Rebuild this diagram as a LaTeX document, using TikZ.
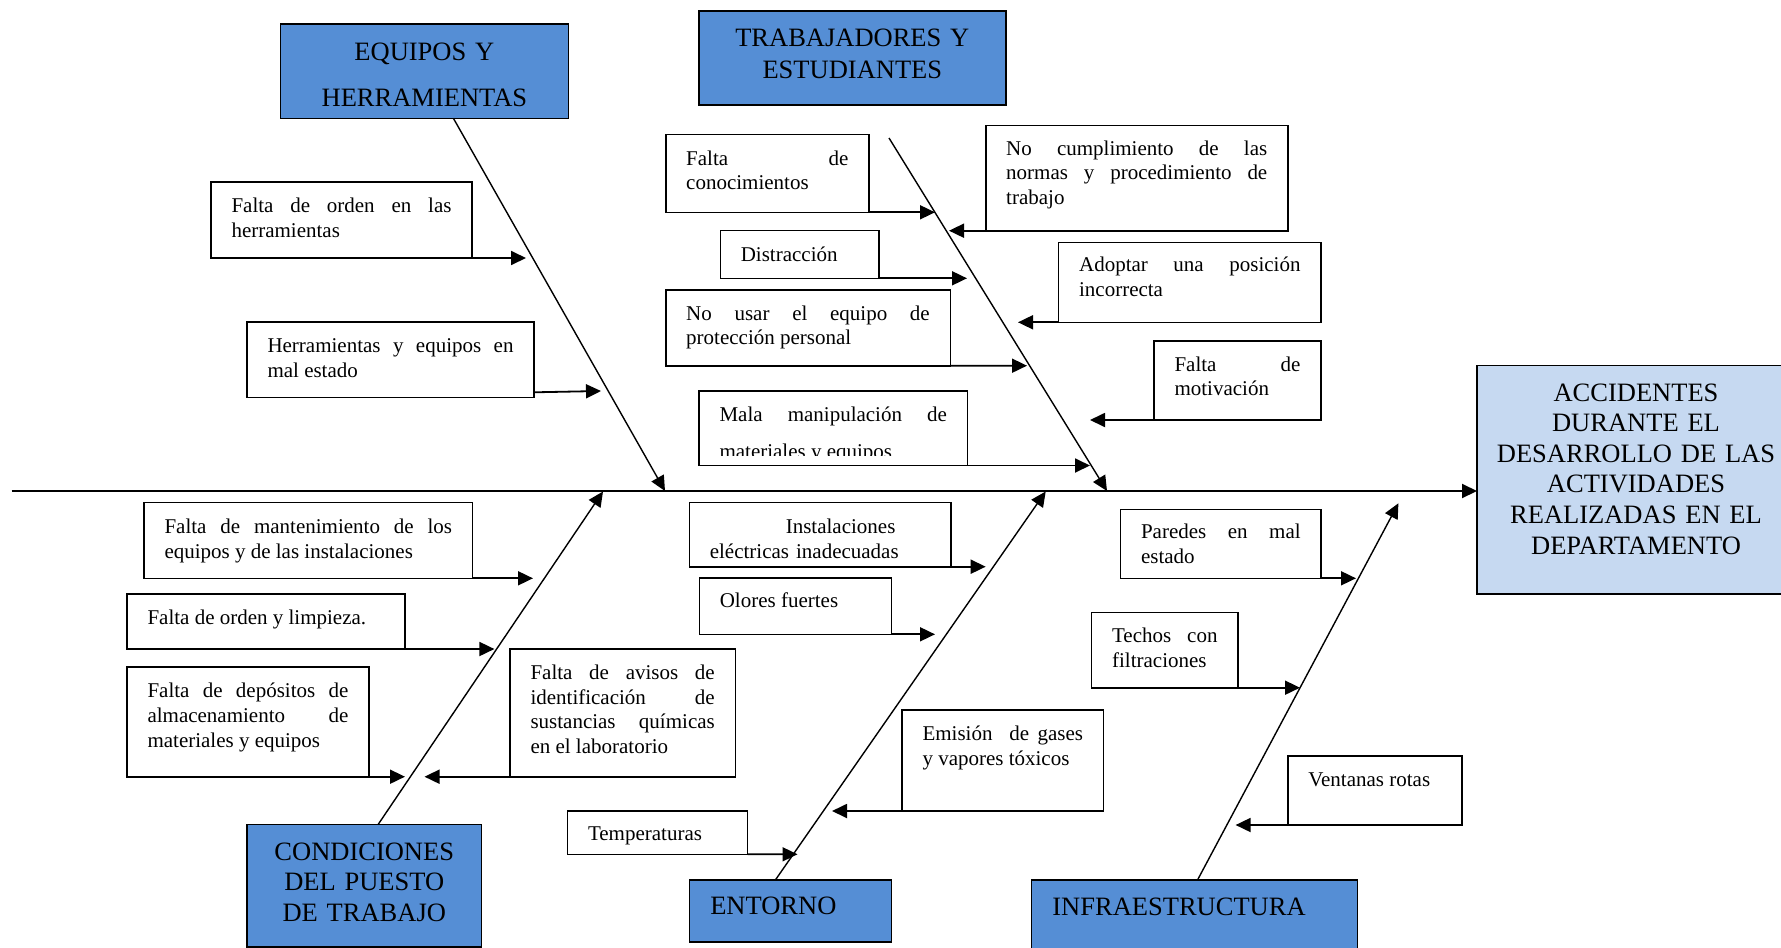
\documentclass[tikz,border=0pt]{standalone}
\usepackage{fontspec}
\setmainfont{Liberation Serif}
\usetikzlibrary{arrows.meta}
\hyphenpenalty=10000
\exhyphenpenalty=10000
\tolerance=10000

\begin{document}
\begin{tikzpicture}[x=1pt,y=-1pt,
	causa/.style={draw,line width=1.6pt,anchor=base west,inner xsep=20.5pt,inner ysep=0pt,outer sep=0pt,align=justify,font=\fontsize{21}{24.7}\selectfont},
	grupo/.style={draw,line width=1.6pt,fill=azul,anchor=base west,inner xsep=12pt,inner ysep=0pt,outer sep=0pt,align=center,font=\fontsize{26.5}{30.6}\selectfont},
	flecha/.style={line width=1.8pt,-{Triangle[length=15pt,width=14pt]}},
	espina/.style={line width=1.4pt,-{Triangle[length=15pt,width=14pt]}}]
					\definecolor{azul}{HTML}{558ED5}
					\definecolor{celeste}{HTML}{C6D9F1}
					\useasboundingbox (0,0) rectangle (1781,948);
					% efecto y espina central
					\node[grupo,fill=celeste,inner xsep=10pt,text width=298pt,text height=35.5pt,text depth=193pt] (acc) at (1477,401) {ACCIDENTES\\DURANTE EL\\DESARROLLO DE LAS\\ACTIVIDADES\\REALIZADAS EN EL\\DEPARTAMENTO};
					\coordinate (spine) at (11.5,491);
					\draw[flecha,line width=2pt] (spine) -- (spine -| acc.west);
					% categorias
					\node[grupo,text width=263.8pt,text height=36pt,text depth=58.3pt] (eqh) at (280.5,60) {EQUIPOS Y\\[15.4pt]HERRAMIENTAS};
					\node[grupo,text width=283.3pt,text height=35pt,text depth=59pt] (tye) at (698.7,46) {TRABAJADORES Y\\[1.7pt]ESTUDIANTES};
					\node[grupo,text width=210.1pt,text height=35.7pt,text depth=86.7pt] (cpt) at (247.2,860) {CONDICIONES\\DEL PUESTO\\DE TRABAJO};
					\node[grupo,align=left,inner xsep=21pt,text width=160.1pt,text height=34.3pt,text depth=27.4pt] (ent) at (689.3,914.3) {ENTORNO};
					\node[grupo,align=left,inner xsep=21pt,text width=284.2pt,text height=35pt,text depth=40pt] (inf) at (1031.4,915) {INFRAESTRUCTURA};
					\coordinate (eqh-t) at (665,491);
					\coordinate (tye-s) at (889,138);
					\coordinate (tye-t) at (1107,491);
					\coordinate (cpt-t) at (603,491.5);
					\coordinate (ent-t) at (1045.7,491.5);
					\coordinate (inf-t) at (1398.4,503.3);
					\draw[espina] ([xshift=29pt]eqh.south) -- (eqh-t);
					\draw[espina] (tye-s) -- (tye-t);
					\draw[espina] ([xshift=14pt]cpt.north) -- (cpt-t);
					\draw[espina] ([xshift=-15pt]ent.north) -- (ent-t);
					\draw[espina] ([xshift=3pt]inf.north) -- (inf-t);
					% equipos y herramientas
					\node[causa,text width=220pt,text height=30.7pt,text depth=45.3pt] (ordenHerr) at (211,212.7) {Falta de orden en las\linebreak herramientas};
					\node[causa,text width=246pt,text height=30.7pt,text depth=44.6pt] (herrMal) at (247,352.7) {Herramientas y equipos en\linebreak mal estado};
					\coordinate (ordenHerr-t) at (526,258);
					\coordinate (herrMal-t) at (601,391);
					\draw[flecha] (ordenHerr.south east) -- (ordenHerr-t);
					\draw[flecha] ([yshift=5pt]herrMal.south east) -- (herrMal-t);
					% trabajadores y estudiantes
					\node[causa,text width=162.3pt,text height=30.7pt,text depth=47.3pt] (conoc) at (665.7,165) {Falta de\linebreak conocimientos};
					\node[causa,text width=261.1pt,text height=29.7pt,text depth=75.7pt] (normas) at (985.7,155) {No cumplimiento de las\linebreak normas y procedimiento de\linebreak trabajo};
					\node[causa,text width=117.7pt,text height=30.7pt,text depth=17.3pt] (distr) at (720.3,261) {Distracción};
					\node[causa,text width=221.4pt,text height=29.4pt,text depth=50.6pt] (postura) at (1058.6,271.7) {Adoptar una posición\linebreak incorrecta};
					\node[causa,text width=243.6pt,text height=30pt,text depth=45.7pt] (epp) at (665.7,320) {No usar el equipo de\linebreak protección personal};
					\node[causa,text width=126pt,text height=30.3pt,text depth=49pt] (motiv) at (1154,371) {Falta de\linebreak motivación};
					\begin{scope}
						\clip (699,391) rectangle (967.5,455);
						\node[causa,draw=none,text width=227.5pt,font=\fontsize{21}{36.4}\selectfont] (manip-txt) at (699,421.6) {Mala manipulación de\linebreak materiales y equipos};
					\end{scope}
					\node[causa,text width=227.5pt,text height=30.9pt,text depth=43.9pt] (manip) at (699,421.6) {};
					\coordinate (conoc-t) at (935,212.3);
					\coordinate (normas-t) at (949,230.7);
					\coordinate (distr-t) at (967,278.3);
					\coordinate (postura-t) at (1018,322.3);
					\coordinate (epp-t) at (1027,365.7);
					\coordinate (motiv-t) at (1090,420);
					\coordinate (manip-t) at (1090,465.5);
					\draw[flecha] (conoc.south east) -- (conoc-t);
					\draw[flecha] (normas.south west) -- (normas-t);
					\draw[flecha] (distr.south east) -- (distr-t);
					\draw[flecha] (postura.south west) -- (postura-t);
					\draw[flecha] (epp.south east) -- (epp-t);
					\draw[flecha] (motiv.south west) -- (motiv-t);
					\draw[flecha] (manip.south east) -- (manip-t);
					% condiciones del puesto de trabajo
					\node[causa,text width=287.6pt,text height=31pt,text depth=45pt] (manten) at (144,533.3) {Falta de mantenimiento de los\linebreak equipos y de las instalaciones};
					\node[causa,text width=237.2pt,text height=30.3pt,text depth=24.7pt] (limpieza) at (127,624.3) {Falta de orden y limpieza.};
					\node[causa,text width=201pt,text height=30.7pt,text depth=79pt] (depositos) at (127,697.7) {Falta de depósitos de\linebreak almacenamiento de\linebreak materiales y equipos};
					\node[causa,text width=184.3pt,text height=30.3pt,text depth=97.4pt] (avisos) at (510,679.3) {Falta de avisos de\linebreak identificación de\linebreak sustancias químicas\linebreak en el laboratorio};
					\coordinate (manten-t) at (533,578.3);
					\coordinate (limpieza-t) at (494.4,649);
					\coordinate (depositos-t) at (405,776.7);
					\coordinate (avisos-t) at (424.5,776.7);
					\draw[flecha] (manten.south east) -- (manten-t);
					\draw[flecha] (limpieza.south east) -- (limpieza-t);
					\draw[flecha] (depositos.south east) -- (depositos-t);
					\draw[flecha] (avisos.south west) -- (avisos-t);
					% entorno
					\node[causa,align=left,text width=220.4pt,text height=31pt,text depth=33.4pt] (instal) at (689.3,533.3) {\hspace*{76pt}Instalaciones\\eléctricas inadecuadas};
					\node[causa,text width=151.1pt,text height=29.6pt,text depth=27pt] (olores) at (699.3,607.3) {Olores fuertes};
					\node[causa,text width=160.6pt,text height=30.7pt,text depth=70.3pt] (gases) at (902,740.7) {Emisión\ \ de gases\linebreak y vapores tóxicos};
					\node[causa,text width=139pt,text height=29.5pt,text depth=13.8pt] (temp) at (567.5,840.5) {Temperaturas};
					\coordinate (instal-t) at (985.7,566.7);
					\coordinate (olores-t) at (935,634.3);
					\coordinate (gases-t) at (832,811);
					\coordinate (temp-t) at (797.5,854.3);
					\draw[flecha] (instal.south east) -- (instal-t);
					\draw[flecha] (olores.south east) -- (olores-t);
					\draw[flecha] (gases.south west) -- (gases-t);
					\draw[flecha] (temp.south east) -- (temp-t);
					% infraestructura
					\node[causa,text width=159.7pt,text height=29pt,text depth=40pt] (paredes) at (1120.5,538.3) {Paredes en mal\linebreak estado};
					\node[causa,text width=105.4pt,text height=30.4pt,text depth=45pt] (techos) at (1091.6,642.7) {Techos con\linebreak filtraciones};
					\node[causa,text width=133.4pt,text height=30.7pt,text depth=38.3pt] (ventanas) at (1287.8,786.7) {Ventanas rotas};
					\coordinate (paredes-t) at (1356,578.3);
					\coordinate (techos-t) at (1300,687.7);
					\coordinate (ventanas-t) at (1235.6,825);
					\draw[flecha] (paredes.south east) -- (paredes-t);
					\draw[flecha] (techos.south east) -- (techos-t);
					\draw[flecha] (ventanas.south west) -- (ventanas-t);
				\end{tikzpicture}
\end{document}
